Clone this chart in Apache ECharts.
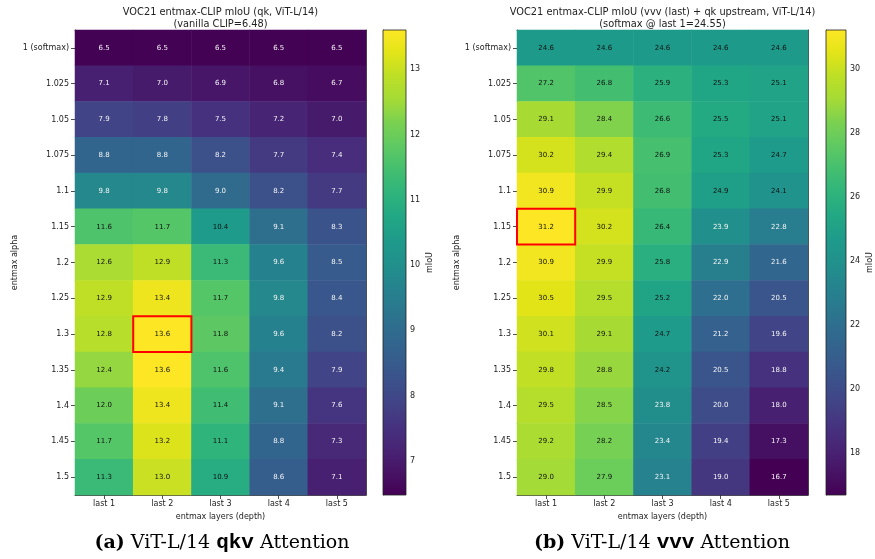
<!DOCTYPE html>
<html><head><meta charset="utf-8">
<script src="https://cdn.jsdelivr.net/npm/echarts@6/dist/echarts.min.js"></script>
<style>html,body{margin:0;padding:0;background:#fff}#c{width:875px;height:559px}</style>
</head><body><div id="c"></div>
<script>
// ---------- data ----------
const alphaLabels = ["1 (softmax)","1.025","1.05","1.075","1.1","1.15","1.2","1.25","1.3","1.35","1.4","1.45","1.5"];
const layerLabels = ["last 1","last 2","last 3","last 4","last 5"];
const qkvValues = [
  [6.5,6.5,6.5,6.5,6.5],
  [7.1,7.0,6.9,6.8,6.7],
  [7.9,7.8,7.5,7.2,7.0],
  [8.8,8.8,8.2,7.7,7.4],
  [9.8,9.8,9.0,8.2,7.7],
  [11.6,11.7,10.4,9.1,8.3],
  [12.6,12.9,11.3,9.6,8.5],
  [12.9,13.4,11.7,9.8,8.4],
  [12.8,13.6,11.8,9.6,8.2],
  [12.4,13.6,11.6,9.4,7.9],
  [12.0,13.4,11.4,9.1,7.6],
  [11.7,13.2,11.1,8.8,7.3],
  [11.3,13.0,10.9,8.6,7.1]
];
const vvvValues = [
  [24.6,24.6,24.6,24.6,24.6],
  [27.2,26.8,25.9,25.3,25.1],
  [29.1,28.4,26.6,25.5,25.1],
  [30.2,29.4,26.9,25.3,24.7],
  [30.9,29.9,26.8,24.9,24.1],
  [31.2,30.2,26.4,23.9,22.8],
  [30.9,29.9,25.8,22.9,21.6],
  [30.5,29.5,25.2,22.0,20.5],
  [30.1,29.1,24.7,21.2,19.6],
  [29.8,28.8,24.2,20.5,18.8],
  [29.5,28.5,23.8,20.0,18.0],
  [29.2,28.2,23.4,19.4,17.3],
  [29.0,27.9,23.1,19.0,16.7]
];
const qkvMin = 6.48, vvvMin = 16.7;
const titleA = "VOC21 entmax-CLIP mIoU (qk, ViT-L/14)\n(vanilla CLIP=6.48)";
const titleB = "VOC21 entmax-CLIP mIoU (vvv (last) + qk upstream, ViT-L/14)\n(softmax @ last 1=24.55)";
const xName = "entmax layers (depth)";
const yName = "entmax alpha";
const cbName = "mIoU";

// ---------- helpers ----------
const viridis = ['#440154','#471365','#482475','#46337f','#414487','#3b528b','#355f8d','#306a8e','#2a788e','#25848e','#21918c','#1e9b8a','#22a884','#2fb47c','#44bf70','#5ec962','#7ad151','#a5db36','#bddf26','#e2e418','#fde725'];
const FONT = "DejaVu Sans";
function stats(m){ let mn=Infinity,mx=-Infinity,bi=0,bj=0; m.forEach((r,i)=>r.forEach((v,j)=>{ if(v<mn)mn=v; if(v>mx){mx=v;bi=i;bj=j;} })); return {mn,mx,bi,bj}; }
function cells(m, lo, hi){
  const mid=(lo+hi)/2, out=[];
  m.forEach((r,i)=>r.forEach((v,j)=>out.push({value:[j,i,v], label:{color: v>mid ? '#111' : '#f4f4f4'}})));
  return out;
}
const sA = stats(qkvValues), sB = stats(vvvValues);
const loA = Math.min(qkvMin, sA.mn), hiA = sA.mx, loB = Math.min(vvvMin, sB.mn), hiB = sB.mx;

const gridsPos = [
  {left:75, top:30, width:291, height:465},
  {left:517, top:30, width:291, height:465},
  {left:383, top:30, width:23, height:465},
  {left:826, top:30, width:23, height:465}
];
const axisLineStyle = {show:true, lineStyle:{color:'#222', width:0.8}};
const tickStyle = {show:true, length:4, lineStyle:{color:'#222', width:0.8}};
const lblStyle = {fontFamily:FONT, fontSize:8, color:'#222'};

const xAxes=[], yAxes=[];
[0,1].forEach(g=>{
  xAxes.push({gridIndex:g, type:'category', data:layerLabels, position:'bottom',
    axisLine:axisLineStyle, axisTick:Object.assign({alignWithLabel:true},tickStyle),
    axisLabel:Object.assign({margin:5},lblStyle), splitLine:{show:false}, splitArea:{show:false},
    name:xName, nameLocation:'middle', nameGap:17, nameTextStyle:{fontFamily:FONT,fontSize:8,color:'#222'}});
  xAxes.push({gridIndex:g, type:'category', data:layerLabels, position:'top',
    axisLine:axisLineStyle, axisTick:{show:false}, axisLabel:{show:false}, splitLine:{show:false}});
  yAxes.push({gridIndex:g, type:'category', data:alphaLabels, inverse:true, position:'left',
    axisLine:axisLineStyle, axisTick:Object.assign({alignWithLabel:true},tickStyle),
    axisLabel:Object.assign({margin:6},lblStyle), splitLine:{show:false}, splitArea:{show:false},
    name:yName, nameLocation:'middle', nameRotate:90, nameGap:56, nameTextStyle:{fontFamily:FONT,fontSize:8,color:'#222'}});
  yAxes.push({gridIndex:g, type:'category', data:alphaLabels, inverse:true, position:'right',
    axisLine:axisLineStyle, axisTick:{show:false}, axisLabel:{show:false}, splitLine:{show:false}});
});
// colorbar axes
[[2,loA,hiA,1],[3,loB,hiB,2]].forEach(([g,lo,hi,step])=>{
  xAxes.push({gridIndex:g, type:'value', min:0, max:1, show:false});
  yAxes.push({gridIndex:g, type:'value', min:lo, max:hi, position:'right', splitNumber:7, minInterval:step, maxInterval:step,
    axisLine:axisLineStyle, axisTick:tickStyle,
    axisLabel:Object.assign({margin:4, showMinLabel:false, showMaxLabel:false,
      formatter:v=>(Math.abs(v-Math.round(v))<1e-6 && Math.round(v)%step===0)?String(Math.round(v)):''},lblStyle),
    splitLine:{show:false},
    name:cbName, nameLocation:'middle', nameRotate:90, nameGap:20, nameTextStyle:{fontFamily:FONT,fontSize:8,color:'#222'}});
});

function heat(xi, yi, m, lo, hi){
  return {type:'heatmap', xAxisIndex:xi, yAxisIndex:yi, data:cells(m,lo,hi),
    label:{show:true, fontFamily:FONT, fontSize:7, formatter:p=>p.value[2].toFixed(1)},
    itemStyle:{borderWidth:0}, emphasis:{disabled:true}, progressive:0};
}
function highlight(xi, yi, s){
  return {type:'custom', xAxisIndex:xi, yAxisIndex:yi, z:10, silent:true,
    data:[[s.bj, s.bi]],
    renderItem:(params, api)=>{
      const c = api.coord([api.value(0), api.value(1)]);
      const sz = api.size([1,1]);
      return {type:'rect', shape:{x:c[0]-sz[0]/2, y:c[1]-sz[1]/2, width:sz[0], height:sz[1]},
        style:{fill:null, stroke:'#ff0000', lineWidth:2}};
    }};
}
function colorbar(xi, yi, lo, hi){
  const stops = viridis.map((c,i)=>({offset:i/(viridis.length-1), color:c}));
  return {type:'custom', xAxisIndex:xi, yAxisIndex:yi, silent:true, data:[[lo,hi]],
    renderItem:(params, api)=>{
      const p1 = api.coord([0, api.value(1)]);
      const p2 = api.coord([1, api.value(0)]);
      return {type:'rect', shape:{x:p1[0], y:p1[1], width:p2[0]-p1[0], height:p2[1]-p1[1]},
        style:{fill:new echarts.graphic.LinearGradient(0,1,0,0,stops), stroke:'#222', lineWidth:0.8}};
    }};
}

const capRich = {
  b:{fontFamily:'DejaVu Serif', fontWeight:'bold', fontSize:19, color:'#111'},
  n:{fontFamily:'DejaVu Serif', fontSize:19, color:'#111'},
  m:{fontFamily:'"Liberation Mono", "Courier New", Courier, monospace', fontWeight:'bold', fontSize:21, color:'#111'}
};
const chart = echarts.init(document.getElementById('c'), null, {renderer:'canvas'});
chart.setOption({
  animation:false,
  backgroundColor:'#fff',
  grid: gridsPos.map(g=>Object.assign({containLabel:false, show:false}, g)),
  xAxis: xAxes,
  yAxis: yAxes,
  visualMap:[
    {type:'continuous', show:false, seriesIndex:0, min:loA, max:hiA, inRange:{color:viridis}},
    {type:'continuous', show:false, seriesIndex:1, min:loB, max:hiB, inRange:{color:viridis}}
  ],
  series:[
    heat(0, 0, qkvValues, loA, hiA),
    heat(2, 2, vvvValues, loB, hiB),
    highlight(0, 0, sA),
    highlight(2, 2, sB),
    colorbar(4, 4, loA, hiA),
    colorbar(5, 5, loB, hiB)
  ],
  graphic:[
    {type:'text', x:220.5, y:7, style:{text:titleA, fontFamily:FONT, fontSize:9.8, lineHeight:11.5, fill:'#222', textAlign:'center', textVerticalAlign:'top'}},
    {type:'text', x:662.5, y:7, style:{text:titleB, fontFamily:FONT, fontSize:9.8, lineHeight:11.5, fill:'#222', textAlign:'center', textVerticalAlign:'top'}},
    {type:'text', x:222, y:543, style:{text:'{b|(a)}{n| ViT-L/14 }{m|qkv}{n| Attention}', rich:capRich, textAlign:'center', textVerticalAlign:'middle'}},
    {type:'text', x:662, y:543, style:{text:'{b|(b)}{n| ViT-L/14 }{m|vvv}{n| Attention}', rich:capRich, textAlign:'center', textVerticalAlign:'middle'}}
  ]
});
</script>
</body></html>
